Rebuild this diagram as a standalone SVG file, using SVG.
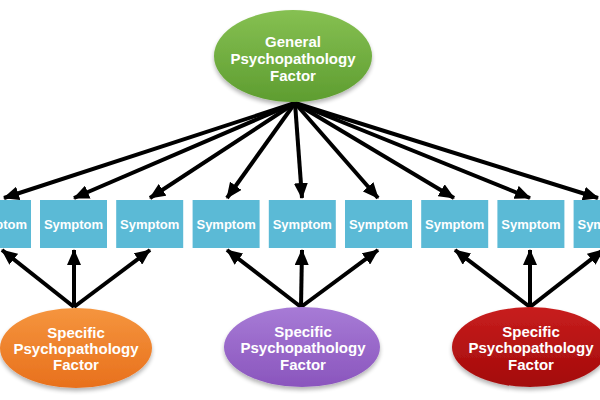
<svg xmlns="http://www.w3.org/2000/svg" width="600" height="400" viewBox="0 0 600 400">
<style>
.box{fill:#5bbad6;}
.bt{font-family:"Liberation Sans",Arial,sans-serif;font-weight:bold;font-size:13px;fill:#fff;text-anchor:middle;}
.et{font-family:"Liberation Sans",Arial,sans-serif;font-weight:bold;font-size:15px;fill:#fff;text-anchor:middle;}
.arr{stroke:#000;stroke-width:4;fill:none;marker-end:url(#ah);}
</style>
<defs>
<marker id="ah" markerUnits="userSpaceOnUse" markerWidth="16" markerHeight="14" viewBox="0 0 16 14" refX="15" refY="7" orient="auto">
<path d="M0,0 L16,7 L0,14 Z" fill="#000"/>
</marker>
<linearGradient id="gG" x1="0" y1="0" x2="0" y2="1"><stop offset="0" stop-color="#86c052"/><stop offset="1" stop-color="#5e9d30"/></linearGradient>
<linearGradient id="gO" x1="0" y1="0" x2="0" y2="1"><stop offset="0" stop-color="#f5953e"/><stop offset="1" stop-color="#e8701c"/></linearGradient>
<linearGradient id="gP" x1="0" y1="0" x2="0" y2="1"><stop offset="0" stop-color="#a77bd6"/><stop offset="1" stop-color="#8a55bd"/></linearGradient>
<linearGradient id="gR" x1="0" y1="0" x2="0" y2="1"><stop offset="0" stop-color="#c81e1e"/><stop offset="1" stop-color="#a30a0a"/></linearGradient>
<filter id="sh" x="-20%" y="-20%" width="140%" height="150%"><feGaussianBlur in="SourceAlpha" stdDeviation="2"/><feOffset dy="3"/><feComponentTransfer><feFuncA type="linear" slope="0.3"/></feComponentTransfer><feMerge><feMergeNode/><feMergeNode in="SourceGraphic"/></feMerge></filter>
</defs>
<rect width="600" height="400" fill="#fff"/>
<g id="connectors">
<line class="arr" x1="295" y1="103" x2="4" y2="198"/>
<line class="arr" x1="295" y1="103" x2="74" y2="198"/>
<line class="arr" x1="295" y1="103" x2="150" y2="198"/>
<line class="arr" x1="295" y1="103" x2="227" y2="198"/>
<line class="arr" x1="295" y1="103" x2="302" y2="198"/>
<line class="arr" x1="295" y1="103" x2="378" y2="198"/>
<line class="arr" x1="295" y1="103" x2="454" y2="198"/>
<line class="arr" x1="295" y1="103" x2="530" y2="198"/>
<line class="arr" x1="295" y1="103" x2="598" y2="198"/>
<line class="arr" x1="74" y1="307" x2="2" y2="250"/>
<line class="arr" x1="74" y1="307" x2="74" y2="250"/>
<line class="arr" x1="74" y1="307" x2="150" y2="250"/>
<line class="arr" x1="301" y1="307" x2="227" y2="250"/>
<line class="arr" x1="301" y1="307" x2="302" y2="250"/>
<line class="arr" x1="301" y1="307" x2="378" y2="250"/>
<line class="arr" x1="530" y1="307" x2="455" y2="250"/>
<line class="arr" x1="530" y1="307" x2="530" y2="250"/>
<line class="arr" x1="530" y1="307" x2="603" y2="250"/>
</g>
<g id="general">
<ellipse cx="293" cy="56" rx="79" ry="46" fill="url(#gG)" filter="url(#sh)"/>
<text class="et" x="293" y="47">General</text>
<text class="et" x="293" y="64">Psychopathology</text>
<text class="et" x="293" y="81">Factor</text>
</g>
<g id="s0"><rect class="box" x="-36" y="200" width="67" height="48"/><text class="bt" x="-2.5" y="229">Symptom</text></g>
<g id="s1"><rect class="box" x="40" y="200" width="67" height="48"/><text class="bt" x="73.5" y="229">Symptom</text></g>
<g id="s2"><rect class="box" x="116.2" y="200" width="67" height="48"/><text class="bt" x="149.7" y="229">Symptom</text></g>
<g id="s3"><rect class="box" x="192.6" y="200" width="67" height="48"/><text class="bt" x="226.1" y="229">Symptom</text></g>
<g id="s4"><rect class="box" x="268.8" y="200" width="67" height="48"/><text class="bt" x="302.3" y="229">Symptom</text></g>
<g id="s5"><rect class="box" x="345" y="200" width="67" height="48"/><text class="bt" x="378.5" y="229">Symptom</text></g>
<g id="s6"><rect class="box" x="421.2" y="200" width="67" height="48"/><text class="bt" x="454.7" y="229">Symptom</text></g>
<g id="s7"><rect class="box" x="497.4" y="200" width="67" height="48"/><text class="bt" x="530.9" y="229">Symptom</text></g>
<g id="s8"><rect class="box" x="573.6" y="200" width="67" height="48"/><text class="bt" x="607.1" y="229">Symptom</text></g>
<g id="specific1">
<ellipse cx="76" cy="348" rx="76" ry="40" fill="url(#gO)" filter="url(#sh)"/>
<text class="et" x="76" y="338">Specific</text>
<text class="et" x="76" y="354">Psychopathology</text>
<text class="et" x="76" y="370">Factor</text>
</g>
<g id="specific2">
<ellipse cx="302" cy="347" rx="78" ry="40" fill="url(#gP)" filter="url(#sh)"/>
<text class="et" x="303" y="337">Specific</text>
<text class="et" x="303" y="353">Psychopathology</text>
<text class="et" x="303" y="370">Factor</text>
</g>
<g id="specific3">
<ellipse cx="530" cy="347" rx="78" ry="40" fill="url(#gR)" filter="url(#sh)"/>
<text class="et" x="531" y="337">Specific</text>
<text class="et" x="531" y="353">Psychopathology</text>
<text class="et" x="531" y="370">Factor</text>
</g>
</svg>
